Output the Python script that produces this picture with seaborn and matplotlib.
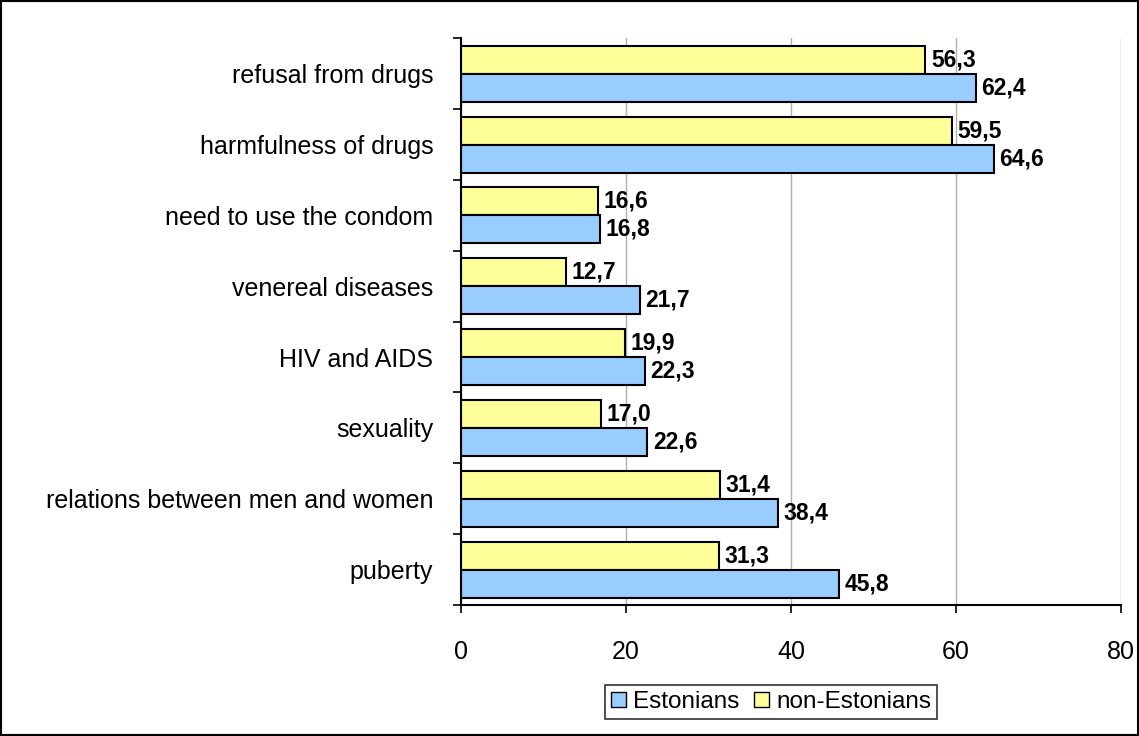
import matplotlib
matplotlib.use('Agg')
import matplotlib.pyplot as plt
import matplotlib.patches as mpatches
import numpy as np
import pandas as pd
import seaborn as sns

categories = ['refusal from drugs', 'harmfulness of drugs', 'need to use the condom',
              'venereal diseases', 'HIV and AIDS', 'sexuality',
              'relations between men and women', 'puberty']
estonians = [62.4, 64.6, 16.8, 21.7, 22.3, 22.6, 38.4, 45.8]
non_estonians = [56.3, 59.5, 16.6, 12.7, 19.9, 17.0, 31.4, 31.3]
x_ticks = [0, 20, 40, 60, 80]

df = pd.DataFrame({
    'topic': categories * 2,
    'group': ['non-Estonians'] * len(categories) + ['Estonians'] * len(categories),
    'value': non_estonians + estonians,
})

sns.set_style('white')
plt.rcParams['font.family'] = ['Liberation Sans', 'DejaVu Sans']
plt.rcParams['text.color'] = 'black'
plt.rcParams['xtick.color'] = 'black'
plt.rcParams['ytick.color'] = 'black'

fig = plt.figure(figsize=(11.39, 7.36), dpi=100)
ax = fig.add_axes([0.4047, 0.178, 0.5795, 0.770])

colors = {'Estonians': '#99ccff', 'non-Estonians': '#ffff99'}
sns.barplot(data=df, x='value', y='topic', hue='group', orient='h',
            hue_order=['non-Estonians', 'Estonians'], palette=colors, saturation=1,
            order=categories, width=0.79, edgecolor='black', linewidth=1.5,
            legend=False, ax=ax)

# value labels
for cont in ax.containers:
    labels = [f'{v:.1f}'.replace('.', ',') for v in cont.datavalues]
    ax.bar_label(cont, labels=labels, padding=4, fontsize=16.5, fontweight='bold')

ax.set_xlim(0, 80)
ax.set_ylim(len(categories) - 0.5, -0.5)
ax.set_xticks(x_ticks)
ax.set_xticklabels([str(t) for t in x_ticks], fontsize=18)
ax.set_yticks(np.arange(len(categories)))
ax.set_yticklabels(categories, fontsize=18)
ax.tick_params(axis='y', which='major', left=False, length=0, pad=20)
# category separator ticks
ax.set_yticks(np.arange(len(categories) + 1) - 0.5, minor=True)
ax.tick_params(axis='y', which='minor', left=True, length=6, width=1.2, direction='out')
ax.tick_params(axis='x', bottom=True, length=6, width=1.2, direction='out', pad=19)
ax.set_xlabel('')
ax.set_ylabel('')
ax.xaxis.grid(True, color='#b0b0b0', linewidth=1)
ax.set_axisbelow(True)
for side in ['top', 'right']:
    ax.spines[side].set_visible(False)
for side in ['left', 'bottom']:
    ax.spines[side].set_color('black')
    ax.spines[side].set_linewidth(1.5)

handles = [mpatches.Patch(facecolor=colors['Estonians'], edgecolor='black', label='Estonians'),
           mpatches.Patch(facecolor=colors['non-Estonians'], edgecolor='black', label='non-Estonians')]
leg = fig.legend(handles=handles, loc='center', bbox_to_anchor=(0.677, 0.046), ncol=2,
                 fontsize=17.5, frameon=True, fancybox=False, edgecolor='black',
                 handlelength=0.6, handleheight=0.6, handletextpad=0.3, columnspacing=0.6,
                 borderpad=0.25)
leg.get_frame().set_linewidth(1.2)

fig.patches.append(mpatches.Rectangle((0.001, 0.001), 0.998, 0.997, transform=fig.transFigure,
                                      fill=False, edgecolor='black', linewidth=1.5))

plt.savefig('out.png', dpi=100)
